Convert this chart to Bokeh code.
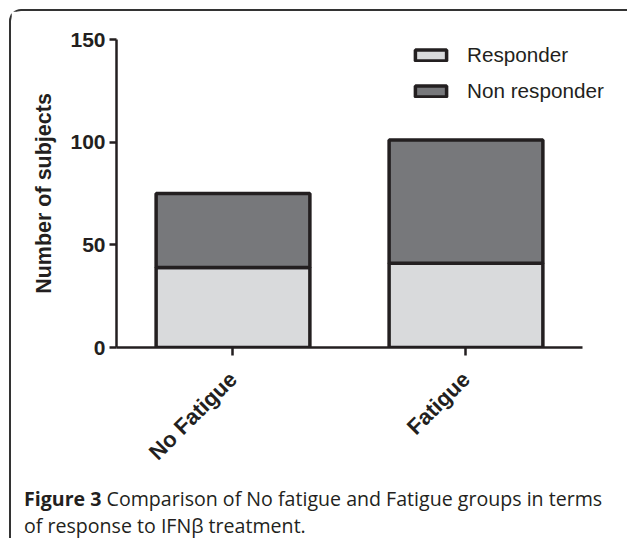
from bokeh.plotting import figure
from bokeh.models import (Range1d, FixedTicker, ColumnDataSource,
                          Legend, LegendItem, Div)
from bokeh.layouts import column
from bokeh.embed import file_html
from bokeh.resources import INLINE

# ---- data ----
groups = ["No Fatigue", "Fatigue"]
responder = [39, 41]
non_responder = [36, 60]
series_names = ["Responder", "Non responder"]
y_ticks = [0, 50, 100, 150]
caption_bold = "Figure 3"
caption_line1 = "Comparison of No fatigue and Fatigue groups in terms"
caption_line2 = "of response to IFNβ treatment."

xpos = [i + 0.5 for i in range(len(groups))]
src = ColumnDataSource(dict(x=xpos, group=groups, Responder=responder,
                            **{"Non responder": non_responder}))

p = figure(width=612, height=465, output_backend="svg", toolbar_location=None,
           x_range=Range1d(0, 2.176), y_range=Range1d(0, 150),
           min_border_left=105, min_border_right=0,
           min_border_top=28, min_border_bottom=128)
p.outline_line_color = None
p.grid.visible = False
p.background_fill_color = "white"
p.border_fill_color = "white"

renderers = p.vbar_stack(series_names, x="x", width=0.66, source=src,
                         fill_color=["#d9dadc", "#77787b"],
                         line_color="#231f20", line_width=3.5)

AX = "#231f20"
yax = p.yaxis[0]
yax.ticker = FixedTicker(ticks=y_ticks)
yax.minor_tick_line_color = None
yax.major_tick_in = 0
yax.major_tick_out = 7
yax.axis_line_width = 2.5
yax.major_tick_line_width = 2.5
yax.axis_line_color = AX
yax.major_tick_line_color = AX
yax.major_label_text_font = "Liberation Sans"
yax.major_label_text_font_style = "bold"
yax.major_label_text_font_size = "21px"
yax.major_label_text_color = AX
yax.major_label_standoff = 4
yax.axis_label = "Number of subjects"
yax.axis_label_text_font = "Liberation Sans"
yax.axis_label_text_font_style = "bold"
yax.axis_label_text_font_size = "21.5px"
yax.axis_label_text_color = AX
yax.axis_label_standoff = 11

xax = p.xaxis[0]
xax.ticker = FixedTicker(ticks=xpos)
xax.major_label_overrides = {x: g for x, g in zip(xpos, groups)}
xax.bounds = (0, len(groups))
xax.minor_tick_line_color = None
xax.major_tick_in = 0
xax.major_tick_out = 8
xax.axis_line_width = 2.5
xax.major_tick_line_width = 2.5
xax.axis_line_color = AX
xax.major_tick_line_color = AX
xax.major_label_orientation = 0.785398
xax.major_label_text_font = "Liberation Sans"
xax.major_label_text_font_style = "bold"
xax.major_label_text_font_size = "22px"
xax.major_label_text_color = AX
xax.major_label_standoff = 20

legend = Legend(items=[LegendItem(label=n, renderers=[r]) for n, r in zip(series_names, renderers)],
                location=(295, 244), orientation="vertical")
legend.glyph_width = 39
legend.glyph_height = 14
legend.label_standoff = 17
legend.spacing = 12
legend.padding = 0
legend.margin = 0
legend.border_line_color = None
legend.background_fill_alpha = 0
legend.label_text_font = "Liberation Sans"
legend.label_text_font_size = "20.7px"
legend.label_text_color = AX
p.add_layout(legend, "center")

caption = Div(text=f"<b>{caption_bold}</b> {caption_line1}<br>{caption_line2}",
              width=612, height=62,
              styles={"font-family": "'Open Sans'", "font-size": "19.6px",
                      "line-height": "27px", "color": "#231f20",
                      "padding-top": "4px", "padding-left": "8px",
                      "white-space": "nowrap", "box-sizing": "border-box"})

page = column(p, caption,
              styles={"margin-left": "9px", "margin-top": "9px",
                      "border-left": "2px solid #333333",
                      "border-top": "2px solid #333333",
                      "border-top-left-radius": "12px"})

open("out.html", "w").write(file_html(page, INLINE))
